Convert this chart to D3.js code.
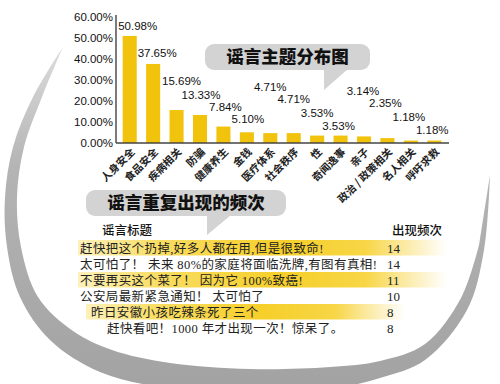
<!DOCTYPE html>
<html><head><meta charset="utf-8">
<script src="https://cdn.jsdelivr.net/npm/d3@7/dist/d3.min.js"></script>
<style>body{margin:0;background:#fff;overflow:hidden}</style>
</head><body><svg id="c" width="500" height="384"></svg>
<script>
// ---------- data ----------
const categories = ["人身安全","食品安全","疾病相关","防骗","健康养生","金钱","医疗体系","社会秩序","性","奇闻逸事","亲子","政治 / 政策相关","名人相关","呼吁求救"];
const shares = [50.98,37.65,15.69,13.33,7.84,5.10,4.71,4.71,3.53,3.53,3.14,2.35,1.18,1.18];
const yTicks = [0,10,20,30,40,50,60];
const chartTitle = "谣言主题分布图";
const tableTitle = "谣言重复出现的频次";
const tableHeaders = ["谣言标题","出现频次"];
const rumorTitles = [
  "赶快把这个扔掉,好多人都在用,但是很致命!",
  "太可怕了！ 未来 80%的家庭将面临洗牌,有图有真相!",
  "不要再买这个菜了！ 因为它 100%致癌!",
  "公安局最新紧急通知！ 太可怕了",
  "昨日安徽小孩吃辣条死了三个",
  "赶快看吧！1000 年才出现一次！惊呆了。"
];
const rumorCounts = [14,14,11,10,8,8];

// ---------- layout (not data) ----------
const CJK = "'Noto Sans CJK SC', sans-serif";
const LAT = "'Liberation Sans', Arial, 'Noto Sans CJK SC', sans-serif";
const SERIF = "'Liberation Serif', 'Noto Sans CJK SC', serif";
const labelY = [26,53,81,95,107,119,87,99,113,126,91,103,117,130];
const labelDx = [8,4,5,1,2,1,0,0,0,-2,-1,-2,-2,-2];
const rowX = [80,80,80,80,91,107];
const rowHighlight = [[78,447],null,[78,447],null,[86,405],null];
const barColor = "#f2c30d";

const svg = d3.select("#c");
const defs = svg.append("defs");

// decorative shadow crescent
const g1 = defs.append("linearGradient").attr("id","shadow").attr("x1",0).attr("y1",0).attr("x2",0).attr("y2",1);
g1.append("stop").attr("offset","0%").attr("stop-color","#dcdcdc");
g1.append("stop").attr("offset","35%").attr("stop-color","#b4b4b4");
g1.append("stop").attr("offset","100%").attr("stop-color","#a2a2a2");
const outer = [[63,47],[33,97],[13,147],[5,197],[7,247],[20,297],[50,340],[100,372],[167,388],[250,393],[330,389],[380,378],[425,360],[467,310],[484,250],[490,175]];
const inner = [[479,245],[461,298],[425,344],[380,361],[330,367],[250,369],[170,363],[112,350],[73,331],[38,297],[21,247],[17,197],[24,147],[42,97],[63,47]];
const ln = d3.line().curve(d3.curveCatmullRom);
svg.append("path")
  .attr("d", ln(outer) + "L" + ln(inner).slice(1) + "Z")
  .attr("fill","url(#shadow)");

// ---------- bar chart ----------
const x = d3.scaleBand().domain(categories).range([118,446]).paddingInner(0.4).paddingOuter(0.2);
const y = d3.scaleLinear().domain([0,60]).range([143,17]);

// y tick labels
svg.append("g").selectAll("text").data(yTicks).join("text")
  .attr("x",113).attr("y",d=>y(d)).attr("dy","0.36em")
  .attr("text-anchor","end").attr("font-family",LAT).attr("font-size",11.5).attr("fill","#111")
  .text(d=>d3.format(".2f")(d)+"%");

// bars
svg.append("g").selectAll("rect").data(shares).join("rect")
  .attr("x",(d,i)=>x(categories[i])).attr("width",x.bandwidth())
  .attr("y",d=>y(d)).attr("height",d=>y(0)-y(d))
  .attr("fill",barColor);

// axes lines
svg.append("line").attr("x1",116).attr("x2",116).attr("y1",y(60)-2).attr("y2",y(0)).attr("stroke","#222").attr("stroke-width",1.2);
svg.append("line").attr("x1",116).attr("x2",449).attr("y1",y(0)).attr("y2",y(0)).attr("stroke","#444").attr("stroke-width",1.4);

// value labels
svg.append("g").selectAll("text").data(shares).join("text")
  .attr("x",(d,i)=>x(categories[i])+x.bandwidth()/2+labelDx[i])
  .attr("y",(d,i)=>labelY[i]).attr("dy","0.36em")
  .attr("text-anchor","middle").attr("font-family",LAT).attr("font-size",11.5).attr("fill","#111")
  .text(d=>d3.format(".2f")(d)+"%");

// category labels
svg.append("g").selectAll("text").data(categories).join("text")
  .attr("transform",d=>`translate(${x(d)+x.bandwidth()/2+3},150) rotate(-45)`)
  .attr("dy","0.35em").attr("text-anchor","end")
  .attr("font-family",CJK).attr("font-size",10.5).attr("font-weight",700).attr("fill","#222")
  .text(d=>d);

// ---------- speech bubbles ----------
function bubble(x0,x1,y0,y1,tail,text){
  const g = svg.append("g");
  g.append("rect").attr("x",x0).attr("y",y0).attr("width",x1-x0).attr("height",y1-y0).attr("rx",9).attr("fill","#d3d3d3");
  g.append("path").attr("d",`M${tail[0]},${y1-1}L${tail[0]},${tail[2]}L${tail[1]},${y1-1}Z`).attr("fill","#d3d3d3");
  g.append("text").attr("x",(x0+x1)/2).attr("y",(y0+y1)/2).attr("dy","0.36em")
    .attr("text-anchor","middle").attr("font-family",CJK).attr("font-size",17.5).attr("font-weight",900).attr("fill","#111")
    .text(text);
}
bubble(205,370,44,70,[324,348,90],chartTitle);
bubble(86,286,190,216,[207,231,235],tableTitle);

// ---------- table ----------
const hl = defs.append("linearGradient").attr("id","hl").attr("x1",0).attr("x2",1).attr("y1",0).attr("y2",0);
[["0%","#fdf1bc"],["22%","#f9dd62"],["55%","#f6cf2a"],["78%","#f7d646"],["88%","#fbe9a0"],["100%","#ffffff"]]
  .forEach(([o,c])=>hl.append("stop").attr("offset",o).attr("stop-color",c));

const rowY = d3.scaleBand().domain(d3.range(rumorTitles.length)).range([240,336]);
const tb = svg.append("g");
tb.selectAll("rect").data(rumorTitles.map((t,i)=>i).filter(i=>rowHighlight[i])).join("rect")
  .attr("x",i=>rowHighlight[i][0]).attr("width",i=>rowHighlight[i][1]-rowHighlight[i][0])
  .attr("y",i=>rowY(i)).attr("height",rowY.bandwidth()-0.5)
  .attr("fill","url(#hl)");

tb.append("text").attr("x",102).attr("y",230).attr("dy","0.36em").attr("font-family",CJK).attr("font-size",12.5).attr("font-weight",500).attr("fill","#111").text(tableHeaders[0]);
tb.append("text").attr("x",392).attr("y",230).attr("dy","0.36em").attr("font-family",CJK).attr("font-size",12.5).attr("font-weight",500).attr("fill","#111").text(tableHeaders[1]);

tb.selectAll("text.t").data(rumorTitles).join("text").attr("class","t")
  .attr("x",(d,i)=>rowX[i]).attr("y",(d,i)=>rowY(i)+rowY.bandwidth()/2).attr("dy","0.36em")
  .attr("font-family",SERIF).attr("font-size",12.5).attr("letter-spacing",0.4).attr("fill","#222")
  .text(d=>d);
tb.selectAll("text.n").data(rumorCounts).join("text").attr("class","n")
  .attr("x",387).attr("y",(d,i)=>rowY(i)+rowY.bandwidth()/2).attr("dy","0.36em")
  .attr("font-family",SERIF).attr("font-size",13).attr("fill","#222")
  .text(d=>d);
</script></body></html>
